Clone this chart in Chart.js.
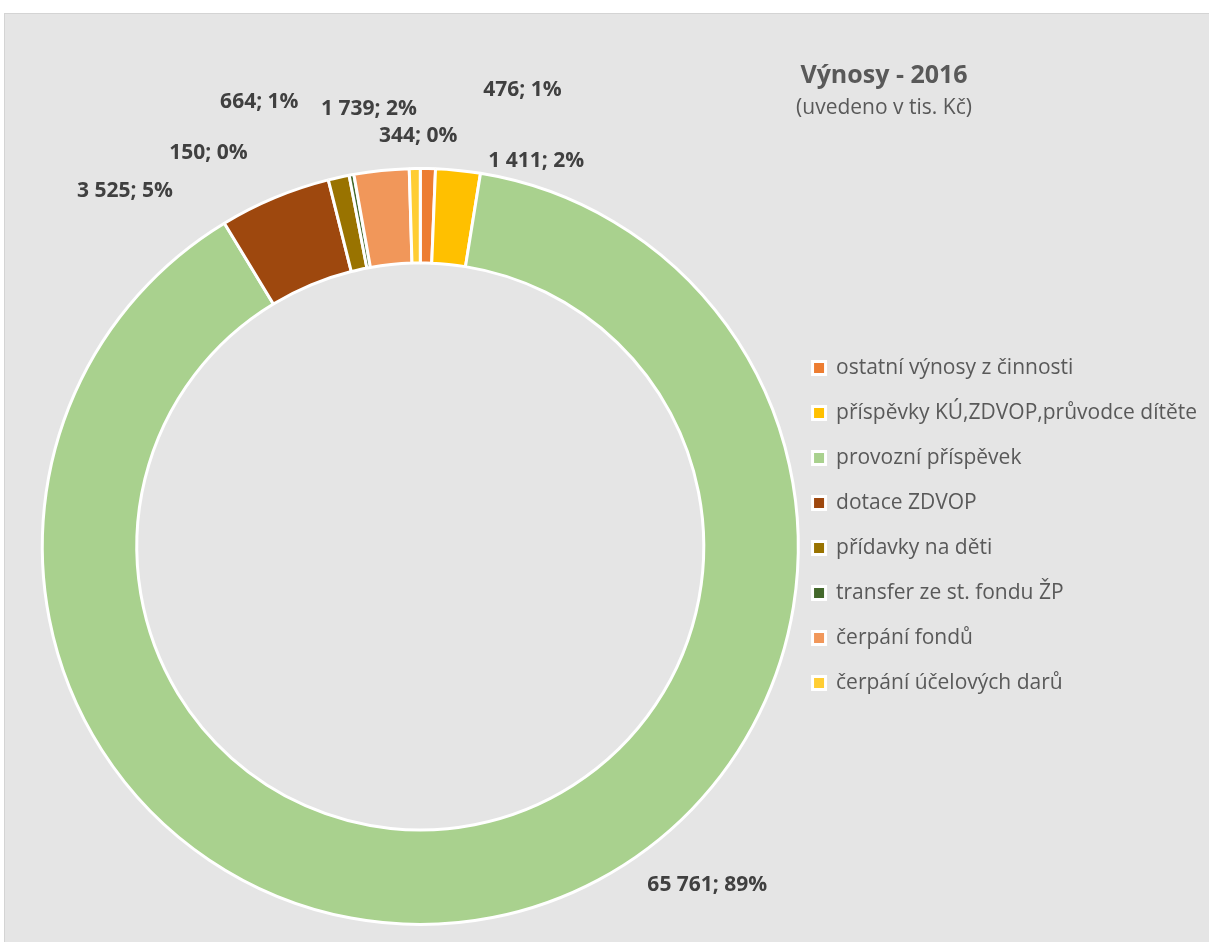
<!DOCTYPE html>
<html>
<head>
<meta charset="utf-8">
<script src="https://cdn.jsdelivr.net/npm/chart.js@4.4.0/dist/chart.umd.min.js"></script>
<style>
  body { margin: 0; background: #ffffff; }
  #wrap { position: absolute; left: 0; top: 0; width: 1209px; height: 942px; }
</style>
</head>
<body>
<div id="wrap"><canvas id="myChart" width="1209" height="942"></canvas></div>
<script>
const polozky = [
  "ostatní výnosy z činnosti",
  "příspěvky KÚ,ZDVOP,průvodce dítěte",
  "provozní příspěvek",
  "dotace ZDVOP",
  "přídavky na děti",
  "transfer ze st. fondu ŽP",
  "čerpání fondů",
  "čerpání účelových darů"
];
const castky = [476, 1411, 65761, 3525, 664, 150, 1739, 344];
const barvy = ["#ED7D31", "#FFC000", "#A9D18E", "#9E480E", "#997300", "#43682B", "#F1975A", "#FFCD33"];

const nadpis = "Výnosy - 2016";
const podnadpis = "(uvedeno v tis. Kč)";

const pismo = "'Open Sans', sans-serif";

// kam Excel posunul popisky: [úhel od vrcholu ve stupních, násobek vnějšího poloměru]
const mistaPopisku = [
  [12.6, 1.238], [16.75, 1.065], [139.7, 1.174], [-39.7, 1.223],
  [-19.9, 1.251], [-28.3, 1.182], [-6.7, 1.165], [-0.3, 1.087]
];

function tisice(v) {
  return String(v).replace(/\B(?=(\d{3})+(?!\d))/g, " ");
}

const pozadi = {
  id: "pozadi",
  beforeDraw(chart) {
    const ctx = chart.ctx;
    ctx.save();
    ctx.fillStyle = "#ffffff";
    ctx.fillRect(0, 0, chart.width, chart.height);
    ctx.fillStyle = "#e5e5e5";
    ctx.fillRect(4, 13, chart.width, chart.height);
    ctx.strokeStyle = "#d4d4d4";
    ctx.lineWidth = 1;
    ctx.strokeRect(4.5, 13.5, chart.width, chart.height);
    ctx.restore();
  }
};

const popisky = {
  id: "popisky",
  afterDatasetsDraw(chart) {
    const ctx = chart.ctx;
    const meta = chart.getDatasetMeta(0);
    const celkem = castky.reduce((a, b) => a + b, 0);
    ctx.save();
    ctx.font = "bold 21px " + pismo;
    ctx.fillStyle = "#404040";
    ctx.textAlign = "center";
    ctx.textBaseline = "middle";
    meta.data.forEach((arc, i) => {
      const p = arc.getProps(["x", "y", "outerRadius"], true);
      const uhel = mistaPopisku[i][0] * Math.PI / 180;
      const r = p.outerRadius * mistaPopisku[i][1];
      const text = tisice(castky[i]) + "; " + Math.round(castky[i] / celkem * 100) + "%";
      ctx.fillText(text, p.x + r * Math.sin(uhel), p.y - r * Math.cos(uhel));
    });

    ctx.fillStyle = "#595959";
    ctx.font = "bold 25px " + pismo;
    ctx.fillText(nadpis, 884, 76);
    ctx.font = "21px " + pismo;
    ctx.fillText(podnadpis, 884, 108);
    ctx.restore();
  }
};

new Chart(document.getElementById("myChart"), {
  type: "doughnut",
  data: {
    labels: polozky,
    datasets: [{
      data: castky,
      backgroundColor: barvy,
      borderColor: "#ffffff",
      borderWidth: 3,
      clip: false
    }]
  },
  options: {
    responsive: false,
    maintainAspectRatio: false,
    devicePixelRatio: 1,
    animation: false,
    events: [],
    radius: 378,
    cutout: "75%",
    layout: {
      padding: { left: 52, right: 2, top: 125, bottom: 16 }
    },
    plugins: {
      tooltip: { enabled: false },
      title: {
        display: true,
        text: "",
        font: { size: 10, lineHeight: 1.2 },
        padding: { top: 0, bottom: 30 }
      },
      legend: {
        position: "right",
        align: "center",
        maxWidth: 600,
        labels: {
          boxWidth: 13,
          boxHeight: 13,
          padding: 24,
          color: "#595959",
          font: { size: 21, family: pismo }
        }
      }
    }
  },
  plugins: [pozadi, popisky]
});
</script>
</body>
</html>
